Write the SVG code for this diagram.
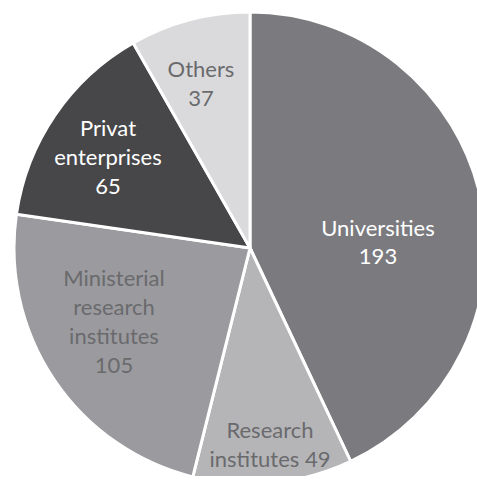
<svg xmlns="http://www.w3.org/2000/svg" width="477" height="481" viewBox="0 0 477 481">
<style>
.s{stroke:#ffffff;stroke-width:3;stroke-linejoin:miter}
.t{font-family:Lato,"Open Sans","Liberation Sans",sans-serif;font-size:22px;text-anchor:middle}
.w{fill:#ffffff}
.d{fill:#6a6a6d}
</style>
<defs>
<clipPath id="plot"><rect x="0" y="0" width="477" height="476"/></clipPath>
</defs>
<rect width="477" height="481" fill="#ffffff"/>
<g clip-path="url(#plot)">
<g id="universities">
<path class="s" fill="#7b7b7f" d="M250,248 L250,12 A236,236 0 0 1 350.69,461.44 Z"/>
<text class="t w" x="378" y="236">Universities</text>
<text class="t w" x="378" y="264">193</text>
</g>
<g id="research-institutes">
<path class="s" fill="#b5b5b8" d="M250,248 L350.69,461.44 A236,236 0 0 1 192.78,476.96 Z"/>
<text class="t d" x="270" y="438">Research</text>
<text class="t d" x="270" y="467">institutes 49</text>
</g>
<g id="ministerial">
<path class="s" fill="#9b9b9f" d="M250,248 L192.78,476.96 A236,236 0 0 1 16.42,214.27 Z"/>
<text class="t d" x="114" y="286">Ministerial</text>
<text class="t d" x="114" y="315">research</text>
<text class="t d" x="114" y="344">institutes</text>
<text class="t d" x="114" y="373">105</text>
</g>
<g id="privat">
<path class="s" fill="#47474a" d="M250,248 L16.42,214.27 A236,236 0 0 1 133.19,42.93 Z"/>
<text class="t w" x="108" y="136">Privat</text>
<text class="t w" x="108" y="165">enterprises</text>
<text class="t w" x="108" y="194">65</text>
</g>
<g id="others">
<path class="s" fill="#dadadc" d="M250,248 L133.19,42.93 A236,236 0 0 1 250,12 Z"/>
<text class="t d" x="201" y="77">Others</text>
<text class="t d" x="201" y="106">37</text>
</g>
</g>
</svg>
